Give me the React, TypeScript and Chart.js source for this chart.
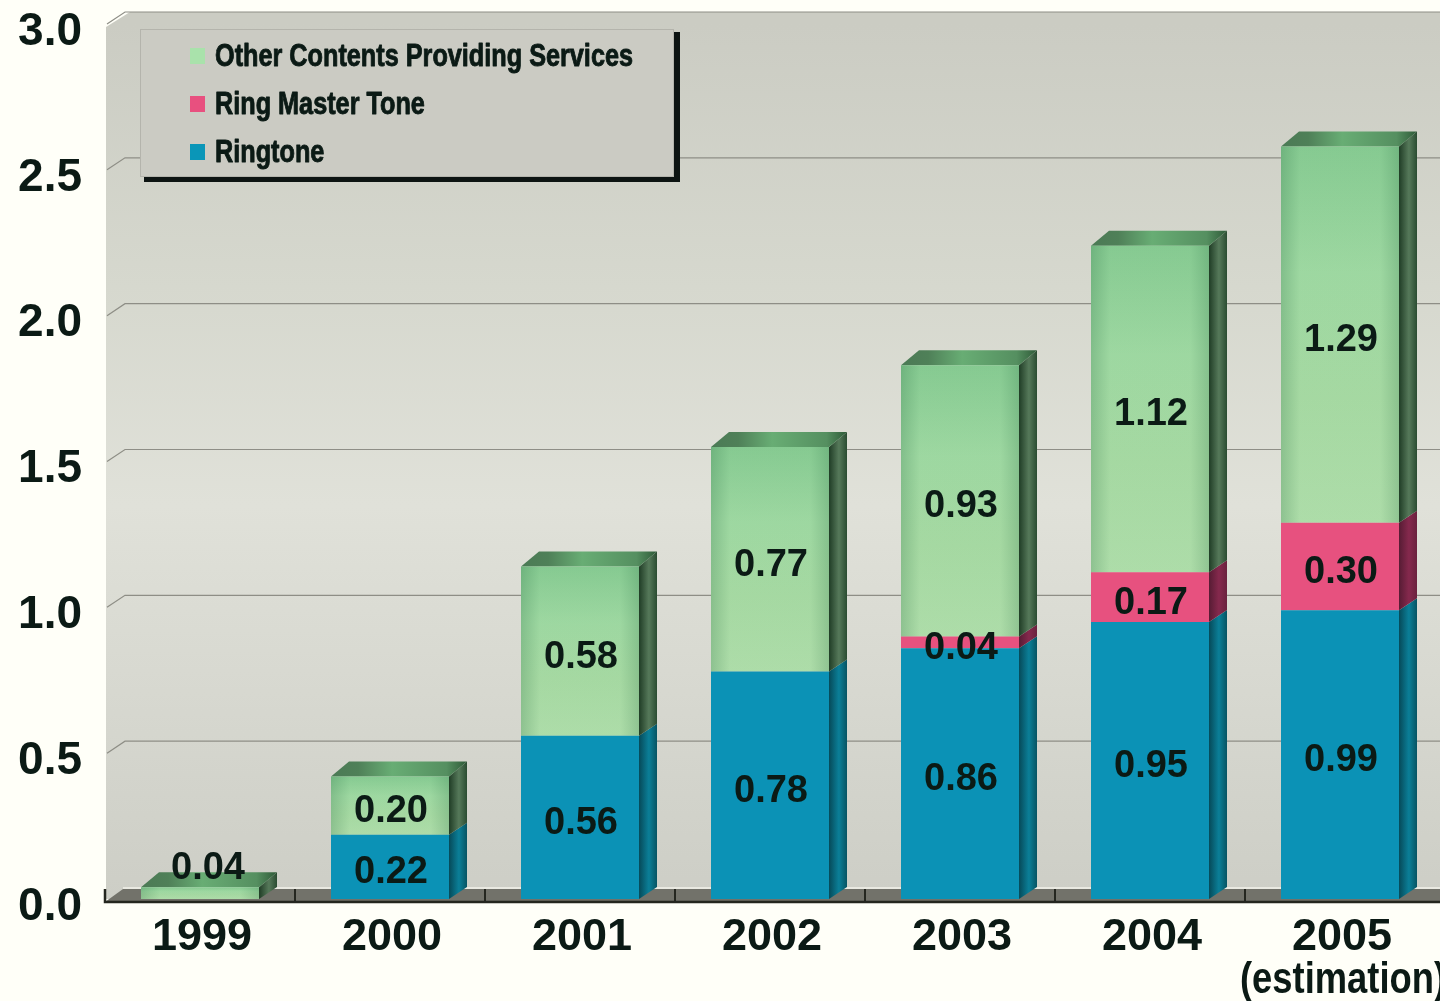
import React, { useEffect, useRef } from "react";
import { Chart, registerables } from "chart.js";

Chart.register(...registerables);

const years = ["1999", "2000", "2001", "2002", "2003", "2004", "2005"];
const ringtone = [0, 0.22, 0.56, 0.78, 0.86, 0.95, 0.99];
const ringMasterTone = [0, 0, 0, 0, 0.04, 0.17, 0.3];
const otherContents = [0.04, 0.2, 0.58, 0.77, 0.93, 1.12, 1.29];
const legendOrder = ["Other Contents Providing Services", "Ring Master Tone", "Ringtone"];
const estimationNote = "(estimation)";

const INK = "#0b1a15";
const DEPTH_X = 18;
const DEPTH_Y = 12;
const DEPTH_Y_TOP = 15;
const LABEL_FONT = 'bold 38px "Liberation Sans"';

// Side-face shading per series: dark edge, lit middle, dark edge.
const sideShades = [
  ["#064a59", "#0b7f98", "#075463"],
  ["#571c34", "#85294d", "#6a223e"],
  ["#203d26", "#56795a", "#2a4c31"],
];
const markerColours = ["#a9e2ab", "#e8507f", "#0a96b8"];

function polygon(c: CanvasRenderingContext2D, pts: number[][], fill: string | CanvasGradient) {
  c.beginPath();
  pts.forEach(([x, y], i) => (i ? c.lineTo(x, y) : c.moveTo(x, y)));
  c.closePath();
  c.fillStyle = fill;
  c.fill();
}

const extrudedBars = {
  id: "extrudedBars",
  beforeDraw(chart: any) {
    const c: CanvasRenderingContext2D = chart.ctx;
    const { width, height } = chart;
    const y0 = chart.scales.y.getPixelForValue(0);
    const y3 = chart.scales.y.getPixelForValue(3);
    c.save();
    c.fillStyle = "#fffff8";
    c.fillRect(0, 0, width, height);
    const wall = c.createLinearGradient(0, y3, 0, y0);
    wall.addColorStop(0, "#cbccc3");
    wall.addColorStop(0.3, "#d6d8ce");
    wall.addColorStop(0.55, "#e0e1d9");
    wall.addColorStop(1, "#cdcec6");
    polygon(
      c,
      [
        [106, y3 + 3],
        [106 + DEPTH_X + 6, y3 - DEPTH_Y],
        [width, y3 - DEPTH_Y],
        [width, y0],
        [106, y0],
      ],
      wall,
    );
    c.restore();
  },
  beforeDatasetsDraw(chart: any) {
    const c: CanvasRenderingContext2D = chart.ctx;
    const { x: xs, y: ys } = chart.scales;
    const left = xs.left;
    const y0 = ys.getPixelForValue(0);
    const floorFront = y0 + 3;
    const floorBack = y0 - 10;
    c.save();

    // Receding grid lines on the side and back walls.
    c.strokeStyle = "#8e8e86";
    c.lineWidth = 1.2;
    ys.ticks.forEach((t: any) => {
      if (t.value === 0) return;
      const y = ys.getPixelForValue(t.value);
      c.beginPath();
      c.moveTo(left + 2, y);
      c.lineTo(left + 2 + DEPTH_X, y - DEPTH_Y);
      c.lineTo(chart.width, y - DEPTH_Y);
      c.stroke();
    });

    // Floor with its category ticks.
    polygon(
      c,
      [
        [left, floorFront],
        [left + DEPTH_X, floorBack],
        [chart.width, floorBack],
        [chart.width, floorFront],
      ],
      "#72726a",
    );
    c.strokeStyle = "#f2f2ea";
    c.lineWidth = 1.5;
    c.beginPath();
    c.moveTo(left + DEPTH_X, floorBack - 1);
    c.lineTo(chart.width, floorBack - 1);
    c.stroke();
    c.strokeStyle = "#24261f";
    c.lineWidth = 2;
    for (let i = 1; i < years.length; i++) {
      const tx = (xs.getPixelForValue(i - 1) + xs.getPixelForValue(i)) / 2;
      c.beginPath();
      c.moveTo(tx, floorBack);
      c.lineTo(tx, floorFront);
      c.stroke();
    }
    c.lineWidth = 2.5;
    c.beginPath();
    c.moveTo(left, floorBack);
    c.lineTo(left, floorFront);
    c.lineTo(chart.width, floorFront);
    c.stroke();

    // Side and top faces of every stacked segment.
    chart.data.datasets.forEach((ds: any, di: number) => {
      chart.getDatasetMeta(di).data.forEach((bar: any, i: number) => {
        if (!ds.data[i]) return;
        const r = bar.x + bar.width / 2;
        const l = bar.x - bar.width / 2;
        const isTop = di === chart.data.datasets.length - 1;
        const topDy = isTop ? DEPTH_Y_TOP : DEPTH_Y;
        const side = c.createLinearGradient(r, 0, r + DEPTH_X, 0);
        side.addColorStop(0, sideShades[di][0]);
        side.addColorStop(0.55, sideShades[di][1]);
        side.addColorStop(1, sideShades[di][2]);
        polygon(
          c,
          [
            [r, bar.y],
            [r + DEPTH_X, bar.y - topDy],
            [r + DEPTH_X, bar.base - DEPTH_Y],
            [r, bar.base],
          ],
          side,
        );
        if (isTop) {
          const top = c.createLinearGradient(l, 0, r + DEPTH_X, 0);
          top.addColorStop(0, "#4b7a55");
          top.addColorStop(0.2, "#4f8058");
          top.addColorStop(0.45, "#68ad74");
          top.addColorStop(0.85, "#558f60");
          top.addColorStop(1, "#2f5a38");
          polygon(
            c,
            [
              [l, bar.y],
              [l + DEPTH_X, bar.y - DEPTH_Y_TOP],
              [r + DEPTH_X, bar.y - DEPTH_Y_TOP],
              [r, bar.y],
            ],
            top,
          );
        }
      });
    });
    c.restore();
  },
  afterDatasetsDraw(chart: any) {
    const c: CanvasRenderingContext2D = chart.ctx;
    const sets = chart.data.datasets;
    c.save();

    // Rounded shading along the edges of the green segments.
    chart.getDatasetMeta(sets.length - 1).data.forEach((bar: any) => {
      const l = bar.x - bar.width / 2;
      const shade = c.createLinearGradient(l, 0, l + bar.width, 0);
      shade.addColorStop(0, "rgba(20,90,50,0.22)");
      shade.addColorStop(0.16, "rgba(20,90,50,0.02)");
      shade.addColorStop(0.84, "rgba(20,90,50,0.02)");
      shade.addColorStop(1, "rgba(20,90,50,0.2)");
      c.fillStyle = shade;
      c.fillRect(l, bar.y, bar.width, bar.base - bar.y);
    });

    // Value labels, centred in their segments; a bar too short to hold one carries it above.
    c.font = LABEL_FONT;
    c.fillStyle = INK;
    c.textAlign = "center";
    c.textBaseline = "middle";
    sets.forEach((ds: any, di: number) => {
      chart.getDatasetMeta(di).data.forEach((bar: any, i: number) => {
        const v = ds.data[i];
        if (!v) return;
        const total = ringtone[i] + ringMasterTone[i] + otherContents[i];
        const shortBar = total < 0.1;
        const y = shortBar ? bar.y - 19 : (bar.y + bar.base) / 2 + 6;
        c.fillText(v.toFixed(2), bar.x + (shortBar ? 8 : 1), y);
      });
    });

    // Second line under the last category, narrowed to the width of its column.
    const xs = chart.scales.x;
    c.font = 'bold 45px "Liberation Sans"';
    const squeeze = 206 / c.measureText(estimationNote).width;
    c.save();
    c.translate(xs.getPixelForValue(years.length - 1) + 3, 981);
    c.scale(squeeze, 1);
    c.fillText(estimationNote, 0, 0);
    c.restore();
    c.restore();
  },
  afterDraw(chart: any) {
    const c: CanvasRenderingContext2D = chart.ctx;
    c.save();
    // Legend panel with a hard drop shadow on its right and bottom edges.
    c.fillStyle = "#0d1412";
    c.fillRect(674, 32, 6, 150);
    c.fillRect(144, 177, 536, 5);
    c.fillStyle = "#cbcbc3";
    c.fillRect(140, 29, 534, 148);
    c.strokeStyle = "#b4b4ac";
    c.lineWidth = 1;
    c.strokeRect(140.5, 29.5, 533, 147);

    c.font = 'bold 31px "Liberation Sans"';
    c.textBaseline = "middle";
    c.textAlign = "left";
    const squeeze = 418 / c.measureText(legendOrder[0]).width;
    legendOrder.forEach((label, i) => {
      const y = 56 + i * 48;
      c.fillStyle = markerColours[i];
      c.fillRect(190, y - 8, 15, 16);
      c.save();
      c.translate(215, y + 1);
      c.scale(squeeze, 1);
      c.fillStyle = INK;
      c.strokeStyle = INK;
      c.lineWidth = 0.9;
      c.lineJoin = "round";
      c.fillText(label, 0, 0);
      c.strokeText(label, 0, 0);
      c.restore();
    });
    c.restore();
  },
};

export default function App() {
  const ref = useRef<HTMLCanvasElement>(null);

  useEffect(() => {
    const verticalFill = (stops: string[], lower: number[], upper: number[]) => (ctx: any) => {
      const { y } = ctx.chart.scales;
      if (ctx.type !== "data" || !y) return stops[0];
      const i = ctx.dataIndex;
      const yTop = y.getPixelForValue(upper[i]);
      const yBottom = y.getPixelForValue(lower[i]);
      // The scale has no pixel range until the first layout pass has run.
      if (!Number.isFinite(yTop) || !Number.isFinite(yBottom)) return stops[0];
      const g = ctx.chart.ctx.createLinearGradient(0, yTop, 0, yBottom);
      stops.forEach((s, k) => g.addColorStop(k / (stops.length - 1), s));
      return g;
    };
    const belowOther = ringtone.map((v, i) => v + ringMasterTone[i]);
    const aboveOther = belowOther.map((v, i) => v + otherContents[i]);

    const chart = new Chart(ref.current!, {
      type: "bar",
      data: {
        labels: years,
        datasets: [
          { label: "Ringtone", data: ringtone, backgroundColor: "#0b92b6" },
          { label: "Ring Master Tone", data: ringMasterTone, backgroundColor: "#e7517f" },
          {
            label: "Other Contents Providing Services",
            data: otherContents,
            backgroundColor: verticalFill(["#88cc93", "#a0daa3", "#a8dba4", "#b0dfab"], belowOther, aboveOther),
          },
        ],
      },
      options: {
        responsive: false,
        animation: false,
        layout: { padding: { top: 24, right: 5, left: 0, bottom: 0 } },
        datasets: { bar: { barPercentage: 118 / 190, categoryPercentage: 1, borderWidth: 0 } },
        plugins: { legend: { display: false }, tooltip: { enabled: false }, title: { display: false } },
        scales: {
          x: {
            stacked: true,
            grid: { display: false },
            border: { display: false },
            afterFit: (s: any) => {
              s.height = 102;
            },
            ticks: {
              color: INK,
              font: { family: "Liberation Sans", size: 45, weight: "bold" },
              padding: 4,
              labelOffset: 2,
              maxRotation: 0,
              autoSkip: false,
            },
          },
          y: {
            stacked: true,
            min: 0,
            max: 3,
            grid: { display: false },
            border: { display: false },
            afterFit: (s: any) => {
              // Tick labels may overhang the plot; the axis keeps its full height.
              s.width = 105;
              s.paddingTop = 0;
              s.paddingBottom = 0;
            },
            ticks: {
              stepSize: 0.5,
              color: INK,
              font: { family: "Liberation Sans", size: 46, weight: "bold" },
              padding: 15,
              labelOffset: 8,
              callback: (v: any) => Number(v).toFixed(1),
            },
          },
        },
      },
      plugins: [extrudedBars],
    } as any);
    return () => chart.destroy();
  }, []);

  return (
    <canvas
      ref={ref}
      width={1440}
      height={1001}
      style={{ position: "absolute", left: 0, top: 0, display: "block" }}
    />
  );
}
